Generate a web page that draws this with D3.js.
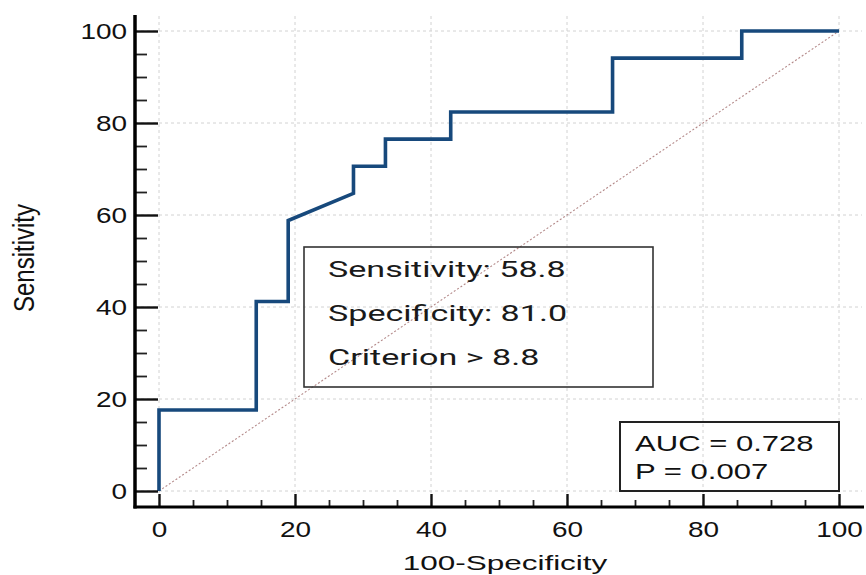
<!DOCTYPE html>
<html>
<head>
<meta charset="utf-8">
<script src="https://cdn.jsdelivr.net/npm/d3@7"></script>
<style>
  html, body { margin: 0; padding: 0; background: #fff; }
  svg { display: block; }
</style>
</head>
<body>
<svg id="chart" width="866" height="575"></svg>
<script>
// ---- data ----
const xTickValues = [0, 20, 40, 60, 80, 100];
const yTickValues = [0, 20, 40, 60, 80, 100];
const minorTickValues = [5, 10, 15, 25, 30, 35, 45, 50, 55, 65, 70, 75, 85, 90, 95];
const rocFpr  = [0, 0, 14.3, 14.3, 19.0, 19.0, 28.6, 28.6, 33.3, 33.3, 42.9, 42.9, 66.7, 66.7, 85.7, 85.7, 100];
const rocSens = [0, 17.6, 17.6, 41.2, 41.2, 58.8, 64.7, 70.6, 70.6, 76.5, 76.5, 82.4, 82.4, 94.1, 94.1, 100, 100];
const diagonal = [0, 100];
const infoLines = ["Sensitivity: 58.8", "Specificity: 81.0", "Criterion > 8.8"];
const statLines = ["AUC = 0.728", "P = 0.007"];
const xTitle = "100-Specificity";
const yTitle = "Sensitivity";

// ---- layout ----
const svg = d3.select("#chart");
const x = d3.scaleLinear().domain([0, 100]).range([159, 839]);
const y = d3.scaleLinear().domain([0, 100]).range([491, 31]);
const axisX = 135, axisY = 507;
const tickFont = "'Liberation Sans', Arial, sans-serif";

// grid
const grid = svg.append("g").attr("stroke", "#d2d2d2").attr("stroke-width", 1).attr("stroke-dasharray", "3,3");
grid.selectAll("line.gx").data(xTickValues).join("line")
  .attr("x1", d => x(d)).attr("x2", d => x(d)).attr("y1", 16).attr("y2", axisY);
grid.selectAll("line.gy").data(yTickValues).join("line")
  .attr("x1", axisX).attr("x2", 862).attr("y1", d => y(d)).attr("y2", d => y(d));

// diagonal reference
svg.append("line")
  .attr("x1", x(diagonal[0])).attr("y1", y(diagonal[0]))
  .attr("x2", x(diagonal[1])).attr("y2", y(diagonal[1]))
  .attr("stroke", "#b48a8a").attr("stroke-width", 1.1).attr("stroke-dasharray", "2,2");

// ROC curve
const pts = rocFpr.map((f, i) => [f, rocSens[i]]);
svg.append("path")
  .datum(pts)
  .attr("fill", "none")
  .attr("stroke", "#17497c")
  .attr("stroke-width", 3.6)
  .attr("stroke-linejoin", "miter")
  .attr("d", d3.line().x(d => x(d[0])).y(d => y(d[1])));

// Y axis
const gy = svg.append("g").attr("transform", `translate(${axisX},0)`);
gy.call(d3.axisLeft(y).tickValues(yTickValues).tickSize(-23).tickPadding(8).tickFormat(d3.format("d")));
gy.select(".domain").remove();
gy.selectAll(".tick line").attr("stroke", "#111").attr("stroke-width", 2.4);
gy.selectAll(".tick text")
  .attr("x", 0).attr("dy", "0.36em")
  .attr("transform", "translate(-8,0) scale(1.3,1)")
  .attr("font-family", tickFont).attr("font-size", 21.5).attr("fill", "#111");
const gyMinor = svg.append("g").attr("transform", `translate(${axisX},0)`);
gyMinor.call(d3.axisLeft(y).tickValues(minorTickValues).tickSize(-12).tickFormat(""));
gyMinor.select(".domain").remove();
gyMinor.selectAll(".tick line").attr("stroke", "#222").attr("stroke-width", 1.8);
svg.append("line").attr("x1", axisX).attr("x2", axisX).attr("y1", 15).attr("y2", axisY + 1.5)
  .attr("stroke", "#000").attr("stroke-width", 3.5);

// X axis
const gx = svg.append("g").attr("transform", `translate(0,${axisY})`);
gx.call(d3.axisBottom(x).tickValues(xTickValues).tickSize(-13).tickPadding(16).tickFormat(d3.format("d")));
gx.select(".domain").remove();
gx.selectAll(".tick line").attr("stroke", "#111").attr("stroke-width", 2.4);
gx.selectAll(".tick text")
  .attr("y", 0).attr("dy", "0.71em")
  .attr("transform", "translate(0,15) scale(1.3,1)")
  .attr("font-family", tickFont).attr("font-size", 21.5).attr("fill", "#111");
const gxMinor = svg.append("g").attr("transform", `translate(0,${axisY})`);
gxMinor.call(d3.axisBottom(x).tickValues(minorTickValues).tickSize(-7).tickFormat(""));
gxMinor.select(".domain").remove();
gxMinor.selectAll(".tick line").attr("stroke", "#222").attr("stroke-width", 1.8);
svg.append("line").attr("x1", axisX - 1.5).attr("x2", 864).attr("y1", axisY).attr("y2", axisY)
  .attr("stroke", "#000").attr("stroke-width", 3.2);

// axis titles
svg.append("text")
  .attr("transform", "translate(505,569.5) scale(1.5,1)")
  .attr("text-anchor", "middle")
  .attr("font-family", tickFont).attr("font-size", 21).attr("fill", "#111")
  .text(xTitle);
svg.append("text")
  .attr("transform", "translate(34,258) rotate(-90) scale(1,1.2)")
  .attr("text-anchor", "middle")
  .attr("font-family", "'Liberation Sans Narrow', 'Liberation Sans', Arial, sans-serif")
  .attr("font-size", 24).attr("fill", "#111")
  .text(yTitle);

// info box
svg.append("rect").attr("x", 304).attr("y", 247).attr("width", 349).attr("height", 140)
  .attr("fill", "none").attr("stroke", "#333").attr("stroke-width", 1.6);
svg.selectAll("text.info").data(infoLines).join("text")
  .attr("class", "info")
  .attr("transform", (d, i) => `translate(328,${277 + i * 44}) scale(1.55,1)`)
  .attr("font-family", "Roboto, 'Noto Sans', sans-serif").attr("font-size", 22).attr("fill", "#1a1a1a")
  .text(d => d);

// AUC box
svg.append("rect").attr("x", 620).attr("y", 422).attr("width", 219).attr("height", 69)
  .attr("fill", "none").attr("stroke", "#222").attr("stroke-width", 2);
svg.selectAll("text.stat").data(statLines).join("text")
  .attr("class", "stat")
  .attr("transform", (d, i) => `translate(635,${451 + i * 28}) scale(1.38,1)`)
  .attr("font-family", tickFont).attr("font-size", 22.5).attr("fill", "#111")
  .text(d => d);
</script>
</body>
</html>
